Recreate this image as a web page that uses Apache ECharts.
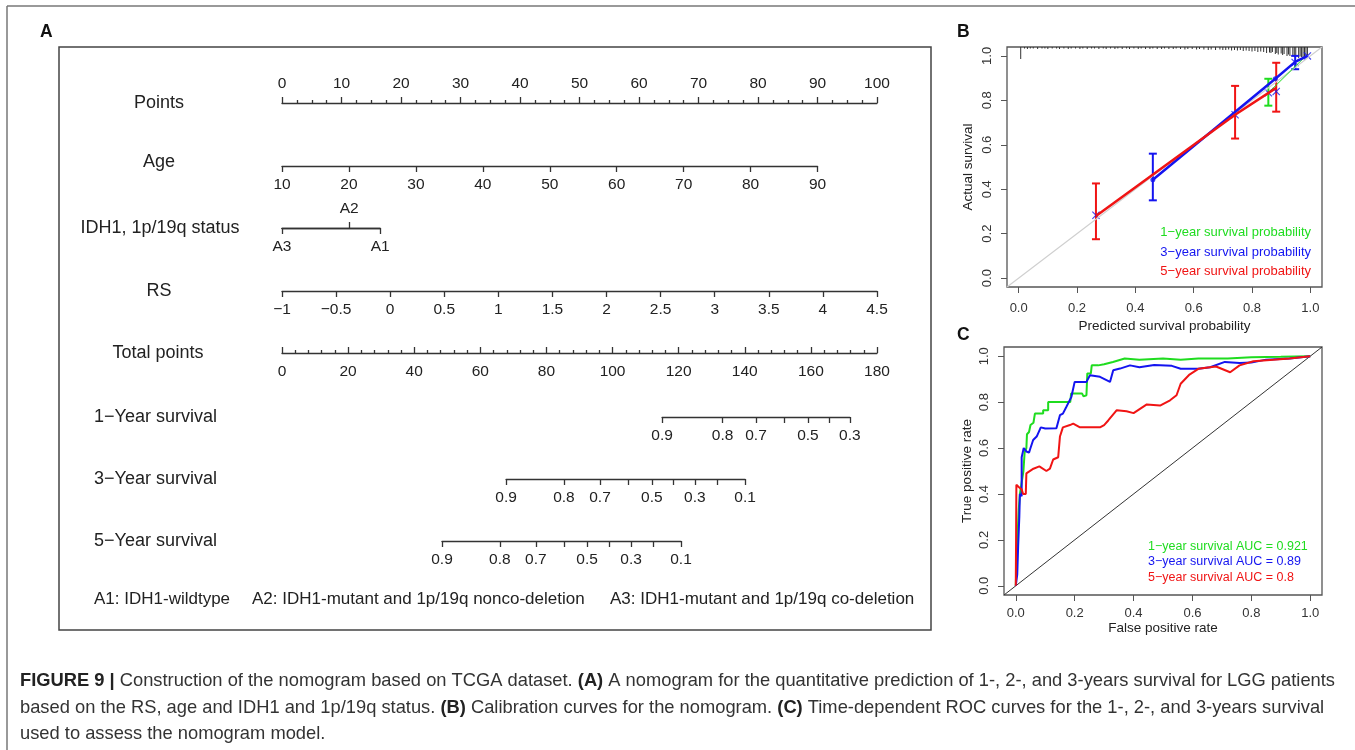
<!DOCTYPE html>
<html>
<head>
<meta charset="utf-8">
<title>Figure 9</title>
<script src="https://cdn.jsdelivr.net/npm/echarts@6/dist/echarts.min.js"></script>
<style>
  html, body { margin: 0; padding: 0; background: #fff; }
  #chart { width: 1355px; height: 750px; }
</style>
</head>
<body>
<div id="chart"></div>
<script>
'use strict';

// ---------- panel A: nomogram ----------
const ageRange = [10, 90];
const agePointsAtMax = 90;
const idhLabels = ['A3', 'A2', 'A1'];
const idhPoints = [0, 11.3, 16.5];
const rsRange = [-1, 4.5];
const surv1Probs = [0.9, 0.8, 0.7, 0.6, 0.5, 0.4, 0.3];
const surv1Total = [115, 133.3, 143.4, 151.9, 159.1, 165.5, 171.8];
const surv3Probs = [0.9, 0.8, 0.7, 0.6, 0.5, 0.4, 0.3, 0.2, 0.1];
const surv3Total = [67.8, 85.3, 96.2, 104.7, 111.9, 118.3, 124.9, 131.6, 140.1];
const surv5Probs = [0.9, 0.8, 0.7, 0.6, 0.5, 0.4, 0.3, 0.2, 0.1];
const surv5Total = [48.4, 65.9, 76.8, 85.3, 92.3, 98.9, 105.6, 112.2, 120.7];
const survLabelled = [0.9, 0.8, 0.7, 0.5, 0.3, 0.1];

// ---------- panel B: calibration ----------
const calRed = [[0.265, 0.28], [0.742, 0.735], [0.883, 0.856]];
const calRedErr = [[0.265, 0.175, 0.426], [0.742, 0.628, 0.865], [0.883, 0.749, 0.969]];
const calBlue = [[0.46, 0.443], [0.88, 0.897], [0.948, 0.973], [0.99, 1.0]];
const calBlueErr = [[0.46, 0.35, 0.56], [0.948, 0.94, 1.0]];
const calGreen = [[0.856, 0.834], [0.985, 1.0]];
const calGreenErr = [[0.856, 0.776, 0.897]];
const calCorrected = [[0.265, 0.283], [0.742, 0.735], [0.856, 0.834], [0.883, 0.84], [0.948, 0.97], [0.99, 1.0]];
const rugX = [0.007, 0.02, 0.03, 0.04, 0.05, 0.065, 0.08, 0.09, 0.1, 0.115, 0.13, 0.14, 0.155, 0.17, 0.18,
  0.195, 0.21, 0.22, 0.235, 0.25, 0.26, 0.275, 0.29, 0.3, 0.315, 0.33, 0.34, 0.355, 0.37, 0.38, 0.395,
  0.41, 0.42, 0.435, 0.45, 0.46, 0.475, 0.49, 0.5, 0.515, 0.53, 0.54, 0.555, 0.57, 0.58, 0.595, 0.61,
  0.62, 0.635, 0.65, 0.66, 0.675, 0.69, 0.7, 0.71, 0.72, 0.73, 0.74, 0.75, 0.76, 0.77, 0.78, 0.79, 0.8,
  0.81, 0.82, 0.83, 0.84, 0.85, 0.86, 0.865, 0.87, 0.88, 0.885, 0.89, 0.9, 0.905, 0.91, 0.92, 0.925,
  0.93, 0.94, 0.945, 0.95, 0.96, 0.965, 0.97, 0.975, 0.98, 0.985, 0.99];
const rugHeight = [12, 1.5, 2, 1.5, 1.5, 2, 1.5, 1.5, 2, 1.5, 1.5, 2, 1.5, 2, 1.5,
  1.5, 2, 1.5, 2, 1.5, 1.5, 2, 1.5, 2, 1.5, 2, 1.5, 2, 1.5, 2, 1.5,
  2, 1.5, 2, 2, 1.5, 2, 2, 1.5, 2, 2, 1.5, 2, 2.5, 2, 2, 2.5,
  2, 2.5, 3, 2.5, 3, 2.5, 3, 3, 2.5, 3.5, 3, 3.5, 3, 4, 3.5, 4, 4.5,
  4, 5, 4.5, 5, 6, 5.5, 6, 5, 7, 6, 7.5, 6.5, 8, 7, 9, 7.5,
  9, 8, 10, 9, 11, 9.5, 10, 11, 9, 10, 8];

// ---------- panel C: ROC ----------
const rocGreen = [[0, 0], [0.003, 0.12], [0.006, 0.22], [0.01, 0.33], [0.014, 0.4], [0.02, 0.45], [0.026, 0.5],
  [0.03, 0.58], [0.036, 0.6], [0.038, 0.66], [0.045, 0.67], [0.05, 0.7], [0.06, 0.71], [0.065, 0.75],
  [0.093, 0.75], [0.093, 0.765], [0.11, 0.765], [0.11, 0.8], [0.17, 0.8], [0.175, 0.795], [0.185, 0.8],
  [0.188, 0.838], [0.225, 0.838], [0.23, 0.825], [0.24, 0.83], [0.243, 0.925], [0.255, 0.925],
  [0.258, 0.96], [0.28, 0.96], [0.3, 0.965], [0.33, 0.975], [0.37, 0.99], [0.42, 0.985], [0.5, 0.99],
  [0.56, 0.985], [0.62, 0.99], [0.72, 0.99], [0.8, 0.995], [0.9, 0.997], [1, 1]];
const rocBlue = [[0, 0], [0.005, 0.05], [0.008, 0.17], [0.012, 0.3], [0.014, 0.4], [0.02, 0.39], [0.02, 0.56],
  [0.027, 0.6], [0.036, 0.585], [0.045, 0.58], [0.05, 0.6], [0.059, 0.635], [0.071, 0.65], [0.085, 0.69],
  [0.1, 0.685], [0.138, 0.686], [0.15, 0.743], [0.16, 0.75], [0.172, 0.78], [0.189, 0.823], [0.2, 0.888],
  [0.24, 0.888], [0.252, 0.917], [0.286, 0.91], [0.32, 0.888], [0.331, 0.939], [0.354, 0.946],
  [0.388, 0.96], [0.42, 0.952], [0.47, 0.962], [0.53, 0.958], [0.56, 0.945], [0.62, 0.945],
  [0.66, 0.952], [0.71, 0.975], [0.76, 0.97], [0.8, 0.972], [0.85, 0.985], [0.93, 0.99], [1, 1]];
const rocRed = [[0, 0], [0.001, 0.2], [0.002, 0.44], [0.01, 0.43], [0.02, 0.42], [0.025, 0.4], [0.034, 0.4],
  [0.036, 0.49], [0.06, 0.51], [0.08, 0.52], [0.104, 0.5], [0.116, 0.51], [0.127, 0.55], [0.144, 0.56],
  [0.15, 0.65], [0.16, 0.69], [0.184, 0.7], [0.195, 0.706], [0.218, 0.69], [0.286, 0.69], [0.3, 0.7],
  [0.314, 0.72], [0.343, 0.765], [0.376, 0.76], [0.4, 0.752], [0.445, 0.79], [0.49, 0.785],
  [0.524, 0.808], [0.546, 0.83], [0.56, 0.88], [0.59, 0.92], [0.62, 0.945], [0.68, 0.955],
  [0.728, 0.93], [0.76, 0.96], [0.807, 0.978], [0.875, 0.984], [0.93, 0.99], [1, 1]];
const unitTicks = [0, 0.2, 0.4, 0.6, 0.8, 1.0];

const GREEN = '#1fdc1f', BLUE = '#1414f0', RED = '#f01414';
const FONT = '"Liberation Sans", Arial, sans-serif';

const myChart = echarts.init(document.getElementById('chart'));

// pixel span used by 0..100 points and 0..180 total points
const NX = 282, NW = 595;
const nomoLine = { color: '#333', width: 1.3 };

const nomoGrid = (top, left, width) => ({ left, top, width, height: 0, outerBoundsMode: 'none' });

const nomoAxis = (gridIndex, opts) => ({
  type: 'value',
  gridIndex,
  position: opts.position || 'bottom',
  min: opts.min,
  max: opts.max,
  interval: opts.interval,
  axisLine: { show: true, onZero: false, lineStyle: nomoLine },
  splitLine: { show: false },
  axisTick: {
    show: true, length: 6, inside: !!opts.inside, lineStyle: nomoLine,
    customValues: opts.ticks
  },
  minorTick: {
    show: !!opts.minor, splitNumber: opts.minor || 5, length: 3, lineStyle: nomoLine
  },
  axisLabel: {
    margin: 11, fontSize: 15.5, color: '#222', fontFamily: FONT,
    showMinLabel: true, showMaxLabel: true,
    customValues: opts.labels,
    formatter: opts.formatter || (v => String(v).replace('-', '\u2212'))
  }
});

const survAxis = (gridIndex, probs, totals) => nomoAxis(gridIndex, {
  min: totals[0], max: totals[totals.length - 1],
  ticks: totals,
  labels: totals.filter((t, i) => survLabelled.includes(probs[i])),
  formatter: v => String(probs[totals.indexOf(v)])
});

const survGrid = (top, totals) => nomoGrid(top, NX + totals[0] / 180 * NW,
  (totals[totals.length - 1] - totals[0]) / 180 * NW);

const idhFormatter = v => idhLabels[idhPoints.indexOf(v)];

const grids = [
  nomoGrid(103, NX, NW),                                   // 0 points
  nomoGrid(166, NX, NW * agePointsAtMax / 100),            // 1 age
  nomoGrid(228, NX, NW * idhPoints[2] / 100),              // 2 idh
  nomoGrid(291, NX, NW),                                   // 3 RS
  nomoGrid(353, NX, NW),                                   // 4 total points
  survGrid(417, surv1Total),                               // 5
  survGrid(479, surv3Total),                               // 6
  survGrid(541, surv5Total),                               // 7
  { left: 1007, top: 47, width: 315, height: 240, show: true, borderColor: '#555', borderWidth: 1.3,
    backgroundColor: 'transparent', outerBoundsMode: 'none' },   // 8 calibration
  { left: 1004, top: 347, width: 318, height: 248, show: true, borderColor: '#555', borderWidth: 1.3,
    backgroundColor: 'transparent', outerBoundsMode: 'none' }    // 9 ROC
];

const unitAxis = (gridIndex, isY, name, labelMargin, nameGap) => ({
  type: 'value', gridIndex, min: -0.04, max: 1.04,
  position: isY ? 'left' : 'bottom',
  name, nameLocation: 'middle', nameGap,
  nameTextStyle: { fontSize: 13.5, color: '#222', fontFamily: FONT },
  axisLine: { show: false, onZero: false },
  splitLine: { show: false },
  axisTick: { show: true, length: 6, customValues: unitTicks, lineStyle: { color: '#555', width: 1 } },
  axisLabel: {
    customValues: unitTicks, rotate: isY ? 90 : 0, margin: labelMargin,
    fontSize: 13, color: '#333', fontFamily: FONT, formatter: v => v.toFixed(1)
  }
});

const xAxes = [
  nomoAxis(0, { position: 'top', min: 0, max: 100, interval: 10, minor: 4 }),
  nomoAxis(1, { min: ageRange[0], max: ageRange[1], interval: 10 }),
  nomoAxis(2, { position: 'top', min: 0, max: idhPoints[2], ticks: [idhPoints[1]], labels: [idhPoints[1]],
    formatter: idhFormatter }),
  nomoAxis(2, { min: 0, max: idhPoints[2], ticks: [idhPoints[0], idhPoints[2]],
    labels: [idhPoints[0], idhPoints[2]], formatter: idhFormatter }),
  nomoAxis(3, { min: rsRange[0], max: rsRange[1], interval: 0.5 }),
  nomoAxis(4, { min: 0, max: 180, interval: 20, inside: true, minor: 5 }),
  survAxis(5, surv1Probs, surv1Total),
  survAxis(6, surv3Probs, surv3Total),
  survAxis(7, surv5Probs, surv5Total),
  unitAxis(8, false, 'Predicted survival probability', 15, 32),
  unitAxis(9, false, 'False positive rate', 12, 26)
];

const yAxes = [];
for (let i = 0; i < 8; i++) {
  yAxes.push({ type: 'value', gridIndex: i, show: false, min: 0, max: 1 });
}
yAxes.push(unitAxis(8, true, 'Actual survival', 13, 32));
yAxes.push(unitAxis(9, true, 'True positive rate', 13, 30));

const errorBar = color => (params, api) => {
  const x = api.value(0);
  const lo = api.coord([x, api.value(1)]);
  const hi = api.coord([x, api.value(2)]);
  const cap = 4;
  const style = { stroke: color, lineWidth: 2 };
  return {
    type: 'group',
    children: [
      { type: 'line', shape: { x1: lo[0], y1: lo[1], x2: hi[0], y2: hi[1] }, style },
      { type: 'line', shape: { x1: lo[0] - cap, y1: lo[1], x2: lo[0] + cap, y2: lo[1] }, style },
      { type: 'line', shape: { x1: hi[0] - cap, y1: hi[1], x2: hi[0] + cap, y2: hi[1] }, style }
    ]
  };
};

const onB = { xAxisIndex: 9, yAxisIndex: 8 };
const onC = { xAxisIndex: 10, yAxisIndex: 9 };
const X_MARK = 'path://M0,1L1,0L5,4L9,0L10,1L6,5L10,9L9,10L5,6L1,10L0,9L4,5Z';

const calLine = (data, color, width) => Object.assign({
  type: 'line', data, showSymbol: false, silent: true,
  lineStyle: { color, width }
}, onB);

const calBars = (data, color) => Object.assign({
  type: 'custom', data, renderItem: errorBar(color), encode: { x: 0, y: [1, 2] }, silent: true
}, onB);

const rocLine = (data, color) => Object.assign({
  type: 'line', data, showSymbol: false, silent: true,
  lineStyle: { color, width: 2 }
}, onC);

const series = [
  calLine([[-0.04, -0.04], [1.04, 1.04]], '#cfcfcf', 1.2),
  Object.assign({
    type: 'custom', silent: true,
    data: rugX.map((x, i) => [x, rugHeight[i]]),
    encode: { x: 0 },
    renderItem: (params, api) => {
      const p = api.coord([api.value(0), 1.04]);
      return { type: 'line', shape: { x1: p[0], y1: p[1], x2: p[0], y2: p[1] + api.value(1) },
        style: { stroke: '#333', lineWidth: 1 } };
    }
  }, onB),
  calLine(calGreen, GREEN, 1),
  calLine(calBlue, BLUE, 2.5),
  calLine(calRed, RED, 2.5),
  calBars(calGreenErr, GREEN),
  calBars(calBlueErr, BLUE),
  calBars(calRedErr, RED),
  Object.assign({ type: 'scatter', data: calBlue.slice(0, 2), symbol: 'circle', symbolSize: 5,
    itemStyle: { color: BLUE }, silent: true }, onB),
  Object.assign({ type: 'scatter', data: calCorrected, symbol: X_MARK, symbolSize: 8,
    itemStyle: { color: BLUE }, silent: true }, onB),

  Object.assign({ type: 'line', data: [[-0.04, -0.04], [1.04, 1.04]], showSymbol: false, silent: true,
    lineStyle: { color: '#333', width: 1 } }, onC),
  rocLine(rocGreen, GREEN),
  rocLine(rocBlue, BLUE),
  rocLine(rocRed, RED)
];

const text = (str, x, y, size, opts = {}) => ({
  type: 'text', x, y, silent: true,
  style: {
    text: str,
    font: `${opts.bold ? 'bold ' : ''}${size}px ${opts.font || FONT}`,
    fill: opts.color || '#222',
    align: opts.align || 'left', textAlign: opts.align || 'left',
    verticalAlign: 'middle', textVerticalAlign: 'middle'
  }
});

// caption: condensed look obtained by squeezing Liberation Sans horizontally
const CAP_SIZE = 18.5;
const capLines = [
  [['b', 'FIGURE 9 |'], ['n', ' Construction of the nomogram based on TCGA dataset. '], ['b', '(A)'],
   ['n', ' A nomogram for the quantitative prediction of 1-, 2-, and 3-years survival for LGG patients']],
  [['n', 'based on the RS, age and IDH1 and 1p/19q status. '], ['b', '(B)'],
   ['n', ' Calibration curves for the nomogram. '], ['b', '(C)'],
   ['n', ' Time-dependent ROC curves for the 1-, 2-, and 3-years survival']],
  [['n', 'used to assess the nomogram model.']]
];
const capY = [681, 708, 734];
const measureCtx = document.createElement('canvas').getContext('2d');
const lineWidth = parts => parts.reduce((s, [k, t]) => {
  measureCtx.font = `${k === 'b' ? 'bold ' : ''}${CAP_SIZE}px ${FONT}`;
  return s + measureCtx.measureText(t).width;
}, 0);
const capScale = (1335 - 20) / lineWidth(capLines[0]);
const capRich = {
  b: { fontWeight: 'bold', fontSize: CAP_SIZE, fontFamily: FONT, fill: '#222' },
  n: { fontWeight: 'normal', fontSize: CAP_SIZE, fontFamily: FONT, fill: '#333' }
};
const captions = capLines.map((parts, i) => ({
  type: 'text', x: 20, y: capY[i], scaleX: capScale, silent: true,
  style: {
    text: parts.map(([k, t]) => `{${k}|${t}}`).join(''),
    rich: capRich, font: `${CAP_SIZE}px ${FONT}`, fill: '#333',
    verticalAlign: 'middle', textVerticalAlign: 'middle'
  }
}));

const graphic = [
  { type: 'line', silent: true, shape: { x1: 7, y1: 6, x2: 7, y2: 750 }, style: { stroke: '#777', lineWidth: 1.5 } },
  { type: 'line', silent: true, shape: { x1: 7, y1: 6, x2: 1355, y2: 6 }, style: { stroke: '#777', lineWidth: 1.5 } },
  { type: 'rect', silent: true, shape: { x: 59, y: 47, width: 872, height: 583 },
    style: { fill: 'none', stroke: '#444', lineWidth: 1.5 } },

  text('A', 40, 32, 17.5, { bold: true, color: '#111' }),
  text('B', 957, 32, 17.5, { bold: true, color: '#111' }),
  text('C', 957, 335, 17.5, { bold: true, color: '#111' }),

  text('Points', 159, 103, 18, { align: 'center' }),
  text('Age', 159, 162, 18, { align: 'center' }),
  text('IDH1, 1p/19q status', 160, 228, 18, { align: 'center' }),
  text('RS', 159, 291, 18, { align: 'center' }),
  text('Total points', 158, 353, 18, { align: 'center' }),
  text('1\u2212Year survival', 94, 417, 18),
  text('3\u2212Year survival', 94, 479, 18),
  text('5\u2212Year survival', 94, 541, 18),
  text('A1: IDH1-wildtype', 94, 599, 17),
  text('A2: IDH1-mutant and 1p/19q nonco-deletion', 252, 599, 17),
  text('A3: IDH1-mutant and 1p/19q co-deletion', 610, 599, 17),

  text('1\u2212year survival probability', 1311, 232, 13, { align: 'right', color: GREEN }),
  text('3\u2212year survival probability', 1311, 252, 13, { align: 'right', color: BLUE }),
  text('5\u2212year survival probability', 1311, 271, 13, { align: 'right', color: RED }),

  text('1\u2212year survival AUC = 0.921', 1148, 547, 12.5, { color: GREEN }),
  text('3\u2212year survival AUC = 0.89', 1148, 562, 12.5, { color: BLUE }),
  text('5\u2212year survival AUC = 0.8', 1148, 578, 12.5, { color: RED })
].concat(captions);

myChart.setOption({
  animation: false,
  backgroundColor: '#fff',
  grid: grids,
  xAxis: xAxes,
  yAxis: yAxes,
  series,
  graphic
});
</script>
</body>
</html>
